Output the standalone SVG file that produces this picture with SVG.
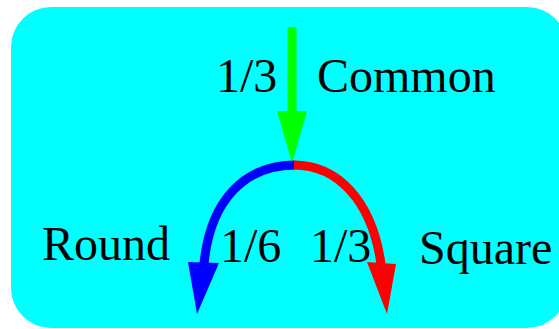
<svg xmlns="http://www.w3.org/2000/svg" width="559" height="329" viewBox="0 0 559 329">
<style>
text{font-family:"Liberation Serif","Times New Roman",serif;font-size:48px;fill:#000}
.ln{fill:none;stroke-width:9}
</style>
<rect id="bg" x="11" y="7" width="556" height="321" rx="40" ry="40" fill="#00ffff"/>
<g id="connectors">
<line class="ln" x1="292" y1="27" x2="292" y2="115" stroke="#00ff00"/>
<polygon points="277,111 307,111 292,163" fill="#00ff00"/>
<path class="ln" d="M295,165 C245,165 210,200 204,264" stroke="#0000ff"/>
<polygon points="188,262 219,263 197,314" fill="#0000ff"/>
<path class="ln" d="M294,165 C337,165 372,200 381,264" stroke="#ff0000"/>
<polygon points="367,262 396,264 387,314" fill="#ff0000"/>
</g>
<g id="labels">
<text x="216" y="92">1/3</text>
<text x="317" y="92">Common</text>
<text x="42" y="260">Round</text>
<text x="220" y="262">1/6</text>
<text x="310" y="262">1/3</text>
<text x="419" y="264">Square</text>
</g>
</svg>
